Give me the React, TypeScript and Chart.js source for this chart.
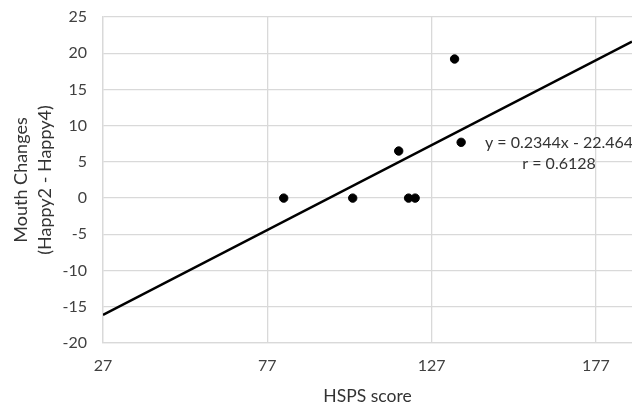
import React, { useEffect, useRef } from "react";
import { Chart, registerables } from "chart.js";

Chart.register(...registerables);

const hspsScores = [82, 103, 117, 120, 122, 134, 136];
const mouthChanges = [0, 0, 6.5, 0, 0, 19.2, 7.7];
const xTicks = [27, 77, 127, 177];
const yTicks = [-20, -15, -10, -5, 0, 5, 10, 15, 20, 25];
const trendSlope = 0.2344;
const trendIntercept = -22.464;
const equationText = "y = 0.2344x - 22.464";
const rText = "r = 0.6128";
const xMin = 27;
const xMax = 188;
const yMin = -20;
const yMax = 25;

const FONT = "Lato, 'Open Sans', sans-serif";

export default function App() {
  const ref = useRef<HTMLCanvasElement | null>(null);

  useEffect(() => {
    if (!ref.current) return;
    const labelPlugin = {
      id: "eqLabel",
      afterDraw(chart: any) {
        const ctx = chart.ctx;
        const xs = chart.scales.x;
        const ys = chart.scales.y;
        ctx.save();
        ctx.fillStyle = "#333333";
        ctx.font = `16px ${FONT}`;
        ctx.textAlign = "center";
        ctx.textBaseline = "middle";
        const cx = xs.getPixelForValue(165.8);
        ctx.fillText(equationText, cx, ys.getPixelForValue(7.6));
        ctx.fillText(rText, cx, ys.getPixelForValue(4.7));
        ctx.restore();
      },
    };

    const chart = new Chart(ref.current, {
      type: "scatter",
      data: {
        datasets: [
          {
            label: "data",
            data: hspsScores.map((x, i) => ({ x, y: mouthChanges[i] })),
            backgroundColor: "#000000",
            borderColor: "#000000",
            pointRadius: 4.2,
            pointHoverRadius: 4.2,
            order: 1,
          },
          {
            type: "line",
            label: "trend",
            data: [
              { x: xMin, y: trendSlope * xMin + trendIntercept },
              { x: xMax, y: trendSlope * xMax + trendIntercept },
            ],
            borderColor: "#000000",
            borderWidth: 2.5,
            pointRadius: 0,
            fill: false,
            order: 2,
          } as any,
        ],
      },
      options: {
        animation: false,
        responsive: true,
        maintainAspectRatio: false,
        layout: { padding: { top: 17, right: 0, left: 0, bottom: 0 } },
        plugins: {
          legend: { display: false },
          tooltip: { enabled: false },
        },
        scales: {
          x: {
            type: "linear",
            min: xMin,
            max: xMax,
            afterBuildTicks: (axis: any) => {
              axis.ticks = xTicks.map((v) => ({ value: v }));
            },
            afterFit: (axis: any) => {
              axis.height = 64;
              axis.paddingLeft = 0;
              axis.paddingRight = 0;
            },
            grid: { color: "#d9d9d9", lineWidth: 1.3, drawTicks: false },
            border: { color: "#d9d9d9", width: 1.3 },
            ticks: {
              color: "#404040",
              font: { family: FONT, size: 16 },
              padding: 13,
              maxRotation: 0,
            },
            title: {
              display: true,
              text: "HSPS score",
              color: "#333333",
              font: { family: FONT, size: 17.5, lineHeight: 1.2 },
              padding: { top: 0, bottom: 0 },
            },
          },
          y: {
            type: "linear",
            min: yMin,
            max: yMax,
            afterBuildTicks: (axis: any) => {
              axis.ticks = yTicks.map((v) => ({ value: v }));
            },
            afterFit: (axis: any) => {
              axis.width = 103;
              axis.paddingTop = 0;
              axis.paddingBottom = 0;
            },
            grid: { color: "#d9d9d9", lineWidth: 1.3, drawTicks: false },
            border: { color: "#d9d9d9", width: 1.3 },
            ticks: {
              color: "#404040",
              font: { family: FONT, size: 16 },
              padding: 16,
            },
            title: {
              display: true,
              text: ["Mouth Changes", "(Happy2 - Happy4)"],
              color: "#333333",
              font: { family: FONT, size: 18, lineHeight: 1.35 },
              padding: { top: 9, bottom: 0 },
            },
          },
        },
      },
      plugins: [labelPlugin],
    });
    return () => chart.destroy();
  }, []);

  return (
    <div style={{ position: "fixed", left: 0, top: 0, width: 637.2, height: 407, background: "#fff" }}>
      <canvas ref={ref} />
    </div>
  );
}
